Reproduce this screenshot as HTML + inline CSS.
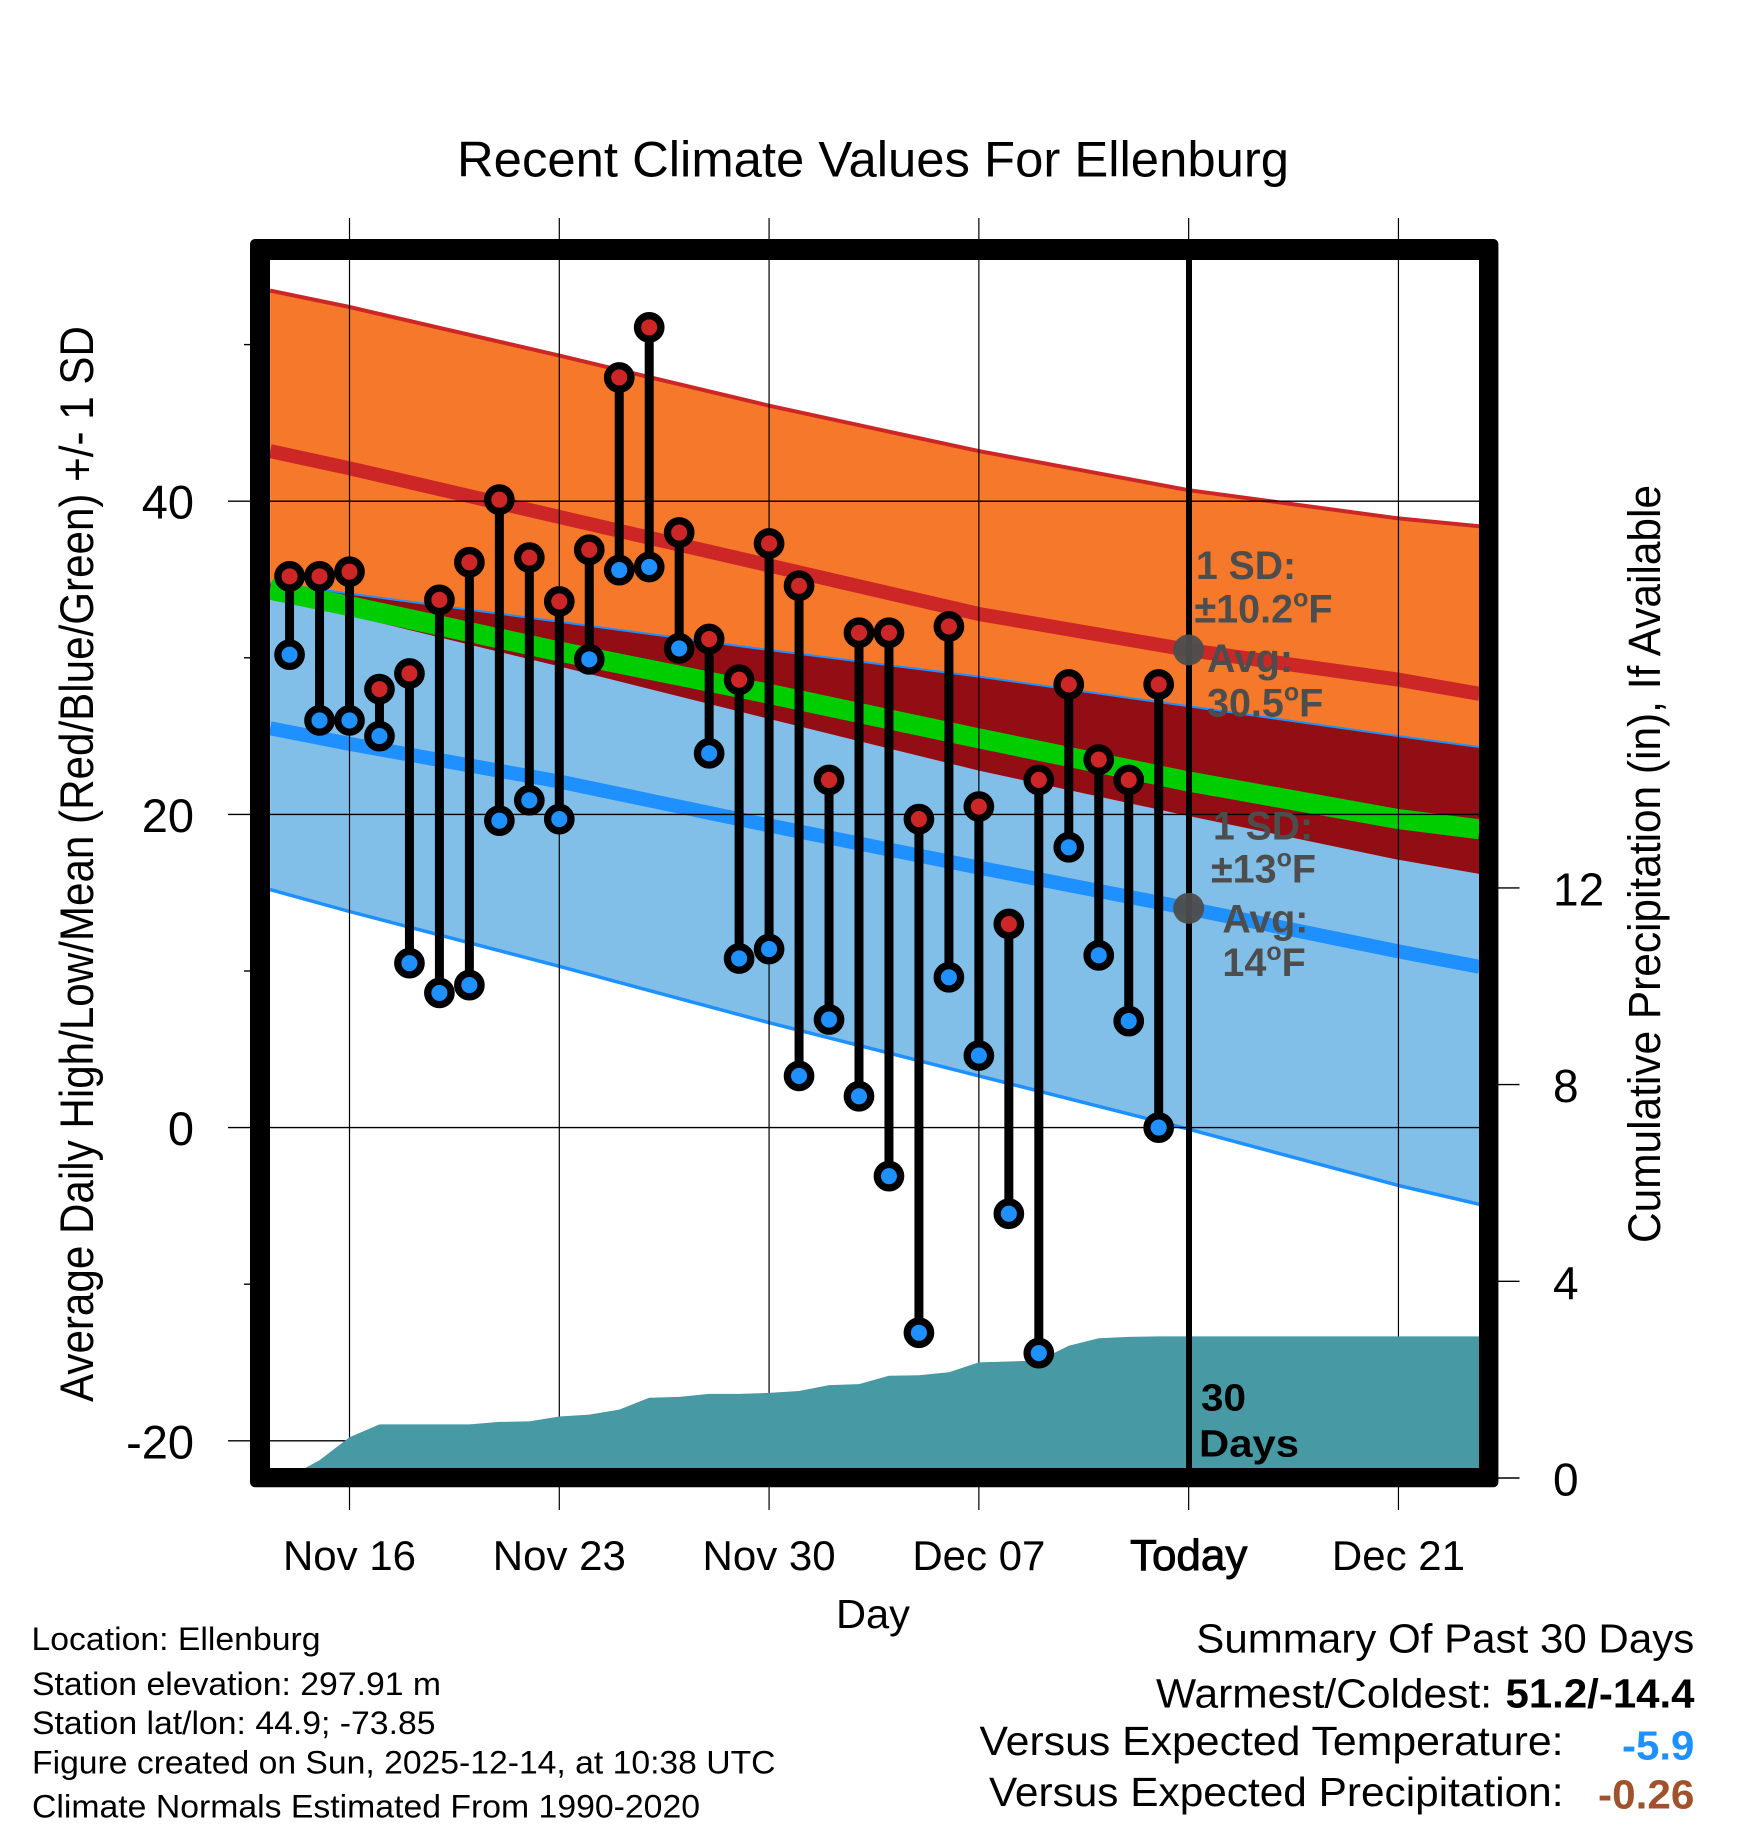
<!DOCTYPE html>
<html lang="en">
<head>
<meta charset="utf-8">
<title>Recent Climate Values For Ellenburg</title>
<style>
html,body{margin:0;padding:0;background:#fff;}
svg{display:block;}
text{font-family:"Liberation Sans",sans-serif;}
</style>
</head>
<body>
<svg id="chart" xmlns="http://www.w3.org/2000/svg" width="1748" height="1828" viewBox="0 0 1748 1828">
  <defs>
    <clipPath id="plot-clip"><rect x="270" y="260" width="1209" height="1208"/></clipPath>
    <clipPath id="low-band-clip"><polygon id="low-band-clip-shape" points=""/></clipPath>
  </defs>
  <rect x="0" y="0" width="1748" height="1828" fill="#ffffff"/>
  <g id="bands" clip-path="url(#plot-clip)"></g>
  <g id="grid"></g>
  <g id="precip" clip-path="url(#plot-clip)"></g>
  <rect x="1186" y="260" width="6" height="1208" fill="#000"/>
  <g id="today-dots"></g>
  <g id="points"></g>
  <path d="M255 239H1493.4a5 5 0 0 1 5 5V1482.2a5 5 0 0 1 -5 5H255a5 5 0 0 1 -5 -5V244a5 5 0 0 1 5 -5ZM270 260V1468H1479V260Z" fill="#000" fill-rule="evenodd"/>
  <g id="tick-labels"></g>

  <text x="457" y="176.7" font-size="50" textLength="832" lengthAdjust="spacingAndGlyphs">Recent Climate Values For Ellenburg</text>
  <text transform="translate(93,1402) rotate(-90)" font-size="47" textLength="1076" lengthAdjust="spacingAndGlyphs">Average Daily High/Low/Mean (Red/Blue/Green) +/- 1 SD</text>
  <text transform="translate(1660,1243) rotate(-90)" font-size="45" textLength="758" lengthAdjust="spacingAndGlyphs">Cumulative Precipitation (in), If Available</text>
  <text x="836" y="1628" font-size="41" textLength="74" lengthAdjust="spacingAndGlyphs">Day</text>

  <g fill="#4d4d4d" font-weight="bold" font-size="39.5">
    <text x="1196" y="579" textLength="100" lengthAdjust="spacingAndGlyphs">1 SD:</text>
    <text x="1194.5" y="622.4">±10.2<tspan dy="-16" font-size="25">o</tspan><tspan dy="16">F</tspan></text>
    <text x="1207" y="672" textLength="86" lengthAdjust="spacingAndGlyphs">Avg:</text>
    <text x="1207" y="716.5">30.5<tspan dy="-16" font-size="25">o</tspan><tspan dy="16">F</tspan></text>
    <text x="1213" y="839.3" textLength="100" lengthAdjust="spacingAndGlyphs">1 SD:</text>
    <text x="1211" y="882.7">±13<tspan dy="-16" font-size="25">o</tspan><tspan dy="16">F</tspan></text>
    <text x="1222.4" y="932.7" textLength="86" lengthAdjust="spacingAndGlyphs">Avg:</text>
    <text x="1222.4" y="976">14<tspan dy="-16" font-size="25">o</tspan><tspan dy="16">F</tspan></text>
  </g>
  <g fill="#000" font-weight="bold" font-size="38">
    <text x="1201" y="1410.7" textLength="45" lengthAdjust="spacingAndGlyphs">30</text>
    <text x="1199" y="1456.6" textLength="100" lengthAdjust="spacingAndGlyphs">Days</text>
  </g>

  <g font-size="32" fill="#000">
    <text x="31.5" y="1650" textLength="289" lengthAdjust="spacingAndGlyphs">Location: Ellenburg</text>
    <text x="32" y="1695" textLength="409" lengthAdjust="spacingAndGlyphs">Station elevation: 297.91 m</text>
    <text x="32" y="1734" textLength="403.5" lengthAdjust="spacingAndGlyphs">Station lat/lon: 44.9; -73.85</text>
    <text x="32" y="1773.3" textLength="743.5" lengthAdjust="spacingAndGlyphs">Figure created on Sun, 2025-12-14, at 10:38 UTC</text>
    <text x="32" y="1817.3" textLength="668" lengthAdjust="spacingAndGlyphs">Climate Normals Estimated From 1990-2020</text>
  </g>

  <g font-size="41" fill="#000">
    <text x="1196.3" y="1652.7" textLength="498" lengthAdjust="spacingAndGlyphs">Summary Of Past 30 Days</text>
    <text x="1156" y="1707.3" textLength="336" lengthAdjust="spacingAndGlyphs">Warmest/Coldest:</text>
    <text x="1505.5" y="1707.3" font-weight="bold" textLength="189" lengthAdjust="spacingAndGlyphs">51.2/-14.4</text>
    <text x="979.5" y="1755" textLength="584" lengthAdjust="spacingAndGlyphs">Versus Expected Temperature:</text>
    <text x="1622" y="1759.3" font-weight="bold" fill="#1e90ff" textLength="72.4" lengthAdjust="spacingAndGlyphs">-5.9</text>
    <text x="989" y="1806" textLength="574.5" lengthAdjust="spacingAndGlyphs">Versus Expected Precipitation:</text>
    <text x="1598" y="1808.3" font-weight="bold" fill="#a0522d" textLength="96.4" lengthAdjust="spacingAndGlyphs">-0.26</text>
  </g>
</svg>

<script>
// Observed days
const days = ['Nov 14','Nov 15','Nov 16','Nov 17','Nov 18','Nov 19','Nov 20','Nov 21','Nov 22','Nov 23','Nov 24','Nov 25','Nov 26','Nov 27','Nov 28','Nov 29','Nov 30','Dec 01','Dec 02','Dec 03','Dec 04','Dec 05','Dec 06','Dec 07','Dec 08','Dec 09','Dec 10','Dec 11','Dec 12','Dec 13'];
const highs = [35.2,35.2,35.5,28.0,29.0,33.7,36.1,40.1,36.4,33.6,36.9,47.9,51.1,38.0,31.2,28.6,37.3,34.6,22.2,31.6,31.6,19.7,32.0,20.5,13.0,22.2,28.3,23.5,22.2,28.3];
const lows = [30.2,26.0,26.0,25.0,10.5,8.6,9.1,19.6,20.9,19.7,29.9,35.6,35.8,30.6,23.9,10.8,11.4,3.3,6.9,2.0,-3.1,-13.1,9.6,4.6,-5.5,-14.4,17.9,11.0,6.8,0.0];
const precip = [0.03,0.36,0.83,1.09,1.09,1.09,1.09,1.14,1.15,1.25,1.29,1.39,1.63,1.65,1.71,1.71,1.73,1.77,1.89,1.91,2.08,2.09,2.15,2.35,2.37,2.39,2.69,2.84,2.87,2.88];

// Climate normals, sampled at day offsets from Nov 16
const normalDays = [-2.65,0,7,14,21,28,35,37.7];
const highPlusSd = [53.45,52.4,49.3,46.1,43.2,40.7,38.9,38.4];
const highMean = [43.2,42.1,39.0,35.9,32.8,30.5,28.6,27.7];
const highMinusSd = [33.8,32.7,29.45,26.1,22.8,19.9,17.1,16.2];
const lowPlusSd = [34.8,34.1,32.3,30.5,28.8,26.9,25.0,24.3];
const lowMean = [25.5,24.5,22.1,19.3,16.6,14.0,11.25,10.27];
const lowMinusSd = [15.2,13.8,10.3,6.7,3.3,-0.1,-3.7,-4.9];
const avgMean = [34.35,33.3,30.4,27.7,24.85,22.1,19.7,19.05];

// Axis ticks
const xTickDays = [0,7,14,21,28,35];
const xTickLabels = ['Nov 16','Nov 23','Nov 30','Dec 07','Today','Dec 21'];
const yTicks = [-20,0,20,40];
const yMinorTicks = [-10,10,30,50];
const precipTicks = [0,4,8,12];
const todayDay = 28;
const todayHigh = 30.5;
const todayLow = 14;

// Axis functions
function xScale(d){ return 349.5 + d * 29.97; }
function yScale(v){ return 1127.6 - v * 15.66; }
function pScale(v){ return 1478 - v * 49.175; }

const NS = 'http://www.w3.org/2000/svg';
function make(tag, parent, attrs){
  const el = document.createElementNS(NS, tag);
  for (const k in attrs) el.setAttribute(k, attrs[k]);
  parent.appendChild(el);
  return el;
}
function linePts(vals){
  return normalDays.map(function(d, i){ return xScale(d).toFixed(1) + ',' + yScale(vals[i]).toFixed(1); });
}
function bandPts(upper, lower){
  return linePts(upper).concat(linePts(lower).reverse()).join(' ');
}

// Bands
const bands = document.getElementById('bands');
document.getElementById('low-band-clip-shape').setAttribute('points', bandPts(lowPlusSd, lowMinusSd));

const highBand = make('polygon', bands, {points: bandPts(highPlusSd, highMinusSd), fill: '#f6782a'});



const lowBand = make('polygon', bands, {points: bandPts(lowPlusSd, lowMinusSd), fill: '#82bfe8'});



const overlap = make('polygon', bands, {points: bandPts(highPlusSd, highMinusSd), fill: '#930d14', 'clip-path': 'url(#low-band-clip)'});



const highTop = make('polyline', bands, {points: linePts(highPlusSd).join(' '), fill: 'none', stroke: '#cd2626', 'stroke-width': 4});



const lowTop = make('polyline', bands, {points: linePts(lowPlusSd).join(' '), fill: 'none', stroke: '#1e90ff', 'stroke-width': 2});



const lowBottom = make('polyline', bands, {points: linePts(lowMinusSd).join(' '), fill: 'none', stroke: '#1e90ff', 'stroke-width': 3.5});



const highLine = make('polyline', bands, {points: linePts(highMean).join(' '), fill: 'none', stroke: '#cd2626', 'stroke-width': 14});



const lowLine = make('polyline', bands, {points: linePts(lowMean).join(' '), fill: 'none', stroke: '#1e90ff', 'stroke-width': 14});



const avgLine = make('polyline', bands, {points: linePts(avgMean).join(' '), fill: 'none', stroke: '#00cd00', 'stroke-width': 20});



// Grid and ticks
const grid = document.getElementById('grid');
const labels = document.getElementById('tick-labels');

xTickDays.forEach(function(d, i){
  const vx = make('line', grid, {x1: xScale(d), x2: xScale(d), y1: 218, y2: 1510, stroke: '#000', 'stroke-width': 1.2});
  
  
  const t = make('text', labels, {x: xScale(d), y: 1570, 'font-size': d === todayDay ? 44 : 42, 'text-anchor': 'middle', fill: '#000'});
  t.textContent = xTickLabels[i];
  if (d === todayDay) { t.setAttribute('stroke', '#000'); t.setAttribute('stroke-width', '0.9'); }
  
  
});

yTicks.forEach(function(v){
  const hl = make('line', grid, {x1: 228, x2: 1479, y1: yScale(v), y2: yScale(v), stroke: '#000', 'stroke-width': 1.4});
  
  
  const t = make('text', labels, {x: 194, y: yScale(v) + 17.5, 'font-size': 47, 'text-anchor': 'end', fill: '#000'});
  t.textContent = String(v);
  
  
});

yMinorTicks.forEach(function(v){
  const m = make('line', grid, {x1: 244, x2: 250, y1: yScale(v), y2: yScale(v), stroke: '#000', 'stroke-width': 1.4});
  
  
});

precipTicks.forEach(function(v){
  const m = make('line', grid, {x1: 1498, x2: 1519.5, y1: pScale(v), y2: pScale(v), stroke: '#000', 'stroke-width': 1.4});
  
  
  const t = make('text', labels, {x: 1553, y: pScale(v) + 17.5, 'font-size': 46, fill: '#000'});
  t.textContent = String(v);
  
  
});

// Precipitation area
const precipGroup = document.getElementById('precip');
const precipPts = [xScale(-2) + ',' + pScale(0)];
precip.forEach(function(v, i){ precipPts.push(xScale(i - 2).toFixed(1) + ',' + pScale(v).toFixed(1)); });
precipPts.push('1479,' + pScale(precip[precip.length - 1]).toFixed(1));
precipPts.push('1479,' + pScale(0));
const area = make('polygon', precipGroup, {points: precipPts.join(' '), fill: '#4799a3'});



// Today markers
const dotGroup = document.getElementById('today-dots');
const dotHigh = make('circle', dotGroup, {cx: xScale(todayDay), cy: yScale(todayHigh), r: 15.5, fill: '#4d4d4d', 'fill-opacity': 0.95});


const dotLow = make('circle', dotGroup, {cx: xScale(todayDay), cy: yScale(todayLow), r: 15.5, fill: '#4d4d4d', 'fill-opacity': 0.95});



// Daily high/low
const pointGroup = document.getElementById('points');
days.forEach(function(day, i){
  const x = xScale(i - 2);
  const stem = make('line', pointGroup, {x1: x, x2: x, y1: yScale(highs[i]), y2: yScale(lows[i]), stroke: '#000', 'stroke-width': 9});
  
  
});
days.forEach(function(day, i){
  const x = xScale(i - 2);
  const lo = make('circle', pointGroup, {cx: x, cy: yScale(lows[i]), r: 11.7, fill: '#1e90ff', stroke: '#000', 'stroke-width': 7.3});
  
  
  const hi = make('circle', pointGroup, {cx: x, cy: yScale(highs[i]), r: 11.7, fill: '#cd2626', stroke: '#000', 'stroke-width': 7.3});
  
  
});
</script>
</body>
</html>
